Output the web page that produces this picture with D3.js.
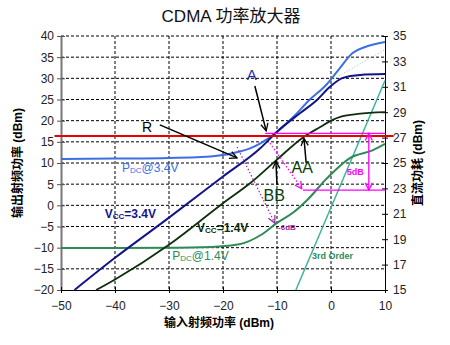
<!DOCTYPE html>
<html><head><meta charset="utf-8">
<script src="https://cdn.jsdelivr.net/npm/d3@7"></script>
<style>body{margin:0;background:#fff}svg{display:block}</style>
</head><body><svg id="c" width="450" height="345"></svg>
<script>
// ---- data ----
const xTicks = [-50,-40,-30,-20,-10,0,10];
const yLeftTicks = [-20,-15,-10,-5,0,5,10,15,20,25,30,35,40];
const yRightTicks = [15,17,19,21,23,25,27,29,31,33,35];

// PDC @ 3.4V (right axis, dBm)
const pdc34X = [-50,-40,-30,-24,-18,-15,-13,-10,-7,-4,-1,1.5,4,6.3,10];
const pdc34Y = [25.31,25.35,25.4,25.47,25.79,26.15,26.57,27.44,28.62,29.96,31.1,32.4,33.66,34.13,34.53];
// Vcc = 3.4V output (left axis)
const vcc34X = [-47.5,-40,-30,-20,-13,-10,-5.7,-2.6,-0.2,2.2,5.4,10];
const vcc34Y = [-20,-12.4,-2.9,6.8,13.6,17.4,21.8,24.9,28,30.1,30.8,31.0];
// Vcc = 1.4V output (left axis)
const vcc14X = [-43.5,-40,-30,-20,-15,-10,-5,-2,0,2,5,10];
const vcc14Y = [-20,-17.5,-9.3,0.5,5.2,10.8,16.2,18.5,20.0,21.0,21.6,22.0];
// PDC @ 1.4V (right axis)
const pdc14X = [-50,-40,-30,-24,-17,-13,-10,-7,-4.4,-0.7,3.5,7.8,10];
const pdc14Y = [18.31,18.31,18.33,18.36,18.6,19.33,20.28,21.1,22.09,23.82,25.39,26.02,26.5];
// 3rd order (left axis)
const im3X = [-6.5,10];
const im3Y = [-20,29.5];
// linear extrapolation (faint dotted, left axis)
const extX = [0,10];
const extY = [29.5,36.8];
// reference level (left axis)
const refX = [-51.2,11.6];
const refY = [16.4,16.4];

// ---- layout ----
const svg = d3.select('#c');
const FONT = "'Liberation Sans',Arial,'Noto Sans CJK SC',sans-serif";
const x = d3.scaleLinear().domain([-50,10]).range([61,385]);
const yL = d3.scaleLinear().domain([-20,40]).range([290,36]);
const yR = d3.scaleLinear().domain([15,35]).range([290,36]);

// title
svg.append('text').attr('x',231).attr('y',22).attr('text-anchor','middle')
  .attr('font-family',FONT).attr('font-size',17).attr('fill','#111').text('CDMA 功率放大器');

// grid
const g = svg.append('g');
g.selectAll('.hg').data(yLeftTicks.filter(d=>d>-20)).enter().append('line')
  .attr('x1',x(-50)).attr('x2',x(10)).attr('y1',d=>yL(d)).attr('y2',d=>yL(d))
  .attr('stroke','#000').attr('stroke-width',1).attr('stroke-dasharray','3,2');
g.selectAll('.vg').data(xTicks.filter(d=>d>-50&&d<10)).enter().append('line')
  .attr('x1',d=>x(d)).attr('x2',d=>x(d)).attr('y1',yL(40)).attr('y2',yL(-20))
  .attr('stroke','#000').attr('stroke-width',1).attr('stroke-dasharray','3,2');

// axes
const axL = svg.append('g').attr('transform',`translate(${x(-50)},0)`)
  .call(d3.axisLeft(yL).tickValues(yLeftTicks).tickSize(4).tickSizeOuter(0));
axL.select('.domain').attr('stroke','#777').attr('stroke-width',2);
axL.selectAll('.tick line').attr('x1',4).attr('x2',-4).attr('stroke','#555');
axL.selectAll('text').attr('font-family',FONT).attr('font-size',12).attr('fill','#222').attr('x',-7);

const axR = svg.append('g').attr('transform',`translate(${x(10)},0)`)
  .call(d3.axisRight(yR).tickValues(yRightTicks).tickSize(3).tickSizeOuter(0));
axR.select('.domain').attr('stroke','#000');
axR.selectAll('.tick line').attr('x1',-3).attr('x2',3);
axR.selectAll('text').attr('font-family',FONT).attr('font-size',12).attr('fill','#222').attr('x',8);

const axB = svg.append('g').attr('transform',`translate(0,${yL(-20)})`)
  .call(d3.axisBottom(x).tickValues(xTicks).tickSize(3).tickSizeOuter(0));
axB.select('.domain').attr('stroke','#000');
axB.selectAll('.tick line').attr('y1',-3).attr('y2',3);
axB.selectAll('text').attr('font-family',FONT).attr('font-size',12).attr('fill','#222').attr('y',11);

// axis titles
svg.append('text').attr('transform','translate(22,163) rotate(-90)').attr('text-anchor','middle')
  .attr('font-family',FONT).attr('font-size',12).attr('font-weight','bold').text('输出射频功率 (dBm)');
svg.append('text').attr('transform','translate(422,163) rotate(-90)').attr('text-anchor','middle')
  .attr('font-family',FONT).attr('font-size',12).attr('font-weight','bold').text('直流功耗 (dBm)');
svg.append('text').attr('x',219).attr('y',327).attr('text-anchor','middle')
  .attr('font-family',FONT).attr('font-size',12).attr('font-weight','bold').text('输入射频功率 (dBm)');

// curves
const lineL = d3.line().x(d=>x(d[0])).y(d=>yL(d[1])).curve(d3.curveMonotoneX);
const lineR = d3.line().x(d=>x(d[0])).y(d=>yR(d[1])).curve(d3.curveMonotoneX);
const zip = (a,b)=>a.map((v,i)=>[v,b[i]]);
function path(gen, pts, color, w, dash){
  const p = svg.append('path').attr('d',gen(pts)).attr('fill','none')
    .attr('stroke',color).attr('stroke-width',w).attr('stroke-linejoin','round');
  if(dash) p.attr('stroke-dasharray',dash);
  return p;
}
path(lineL, zip(extX,extY), '#9cc9b0', 1, '1,2');
path(lineL, zip(im3X,im3Y), '#3fb39c', 1.5);
path(lineR, zip(pdc14X,pdc14Y), '#2e8b57', 2);
path(lineL, zip(vcc14X,vcc14Y), '#0e2e0e', 1.8);
path(lineR, zip(pdc34X,pdc34Y), '#3d6fe3', 2);
path(lineL, zip(vcc34X,vcc34Y), '#14148a', 2);
path(lineL, zip(refX,refY), '#e80000', 2);

// markers
const defs = svg.append('defs');
function marker(id,color){
  defs.append('marker').attr('id',id).attr('viewBox','0 0 10 10').attr('refX',9).attr('refY',5)
    .attr('markerWidth',9).attr('markerHeight',9).attr('markerUnits','userSpaceOnUse').attr('orient','auto-start-reverse')
    .append('path').attr('d','M1,1 L9,5 L1,9').attr('fill','none').attr('stroke',color).attr('stroke-width',1.4);
}
marker('mk','#000'); marker('mm','#ff00ff'); marker('mp','#a02aa0');

// annotation geometry (data units, left axis)
const magTopX = [-12.2,10], magTopY = 17.0;
const magBotX = [-5.2,10], magBotY = 3.6;
const magVX = 7.0;
function seg(x1,y1,x2,y2,color,w,dash,mEnd,mStart){
  const l = svg.append('line').attr('x1',x(x1)).attr('y1',yL(y1)).attr('x2',x(x2)).attr('y2',yL(y2))
    .attr('stroke',color).attr('stroke-width',w);
  if(dash) l.attr('stroke-dasharray',dash);
  if(mEnd) l.attr('marker-end',`url(#${mEnd})`);
  if(mStart) l.attr('marker-start',`url(#${mStart})`);
}
seg(magTopX[0],magTopY,magTopX[1],magTopY,'#ff00ff',1.3);
seg(magBotX[0],magBotY,magBotX[1],magBotY,'#ff00ff',1.3);
seg(magVX,magBotY,magVX,magTopY,'#ff00ff',1.3,null,'mm','mm');
seg(-11.3,14.7,-5.4,3.9,'#ff00ff',1.2,'1.5,2','mm');
seg(-17.4,13.8,-10.4,-4.2,'#a02aa0',1.2,'1.5,2','mp');
// black arrows
seg(-14.1,28.2,-12.0,17.6,'#000',1.5,null,'mk');
seg(-31.7,19.0,-17.4,11.2,'#000',1.5,null,'mk');
seg(-4.6,10.0,-5.0,15.8,'#000',1.5,null,'mk');
seg(-10.0,4.8,-10.2,10.4,'#000',1.5,null,'mk');

// text labels
function label(xv,yv,txt,color,size,weight){
  return svg.append('text').attr('x',x(xv)).attr('y',yL(yv)).attr('font-family',FONT)
    .attr('font-size',size).attr('font-weight',weight||'normal').attr('fill',color).text(txt);
}
label(-15.6,29.6,'A','#1a2fa8',15);
label(-35,17.3,'R','#000',14);
label(-7.3,7.6,'AA','#0b3d0b',16);
label(-12.5,1.0,'BB','#0b3d0b',16);
label(2.9,7.2,'5dB','#ff00ff',9,'bold');
label(-9.8,-5.8,'-6dB','#a02aa0',8,'bold');
label(-3.5,-12.7,'3rd Order','#2e8b57',9,'bold');
function subLabel(xv,yv,a,sub,b,color,weight){
  const t = svg.append('text').attr('x',x(xv)).attr('y',yL(yv)).attr('font-family',FONT)
    .attr('font-size',12).attr('font-weight',weight).attr('fill',color);
  t.append('tspan').text(a);
  t.append('tspan').attr('font-size',8).attr('dy',1).text(sub);
  t.append('tspan').attr('dy',-1).text(b);
}
subLabel(-38.7,7.9,'P','DC','@3.4V','#3d6fe3','normal');
subLabel(-29.4,-12.9,'P','DC','@1.4V','#2e8b57','normal');
subLabel(-41.9,-3.0,'V','CC','=3.4V','#14148a','bold');
subLabel(-24.8,-6.3,'V','CC','=1.4V','#0e2e0e','bold');
</script></body></html>
